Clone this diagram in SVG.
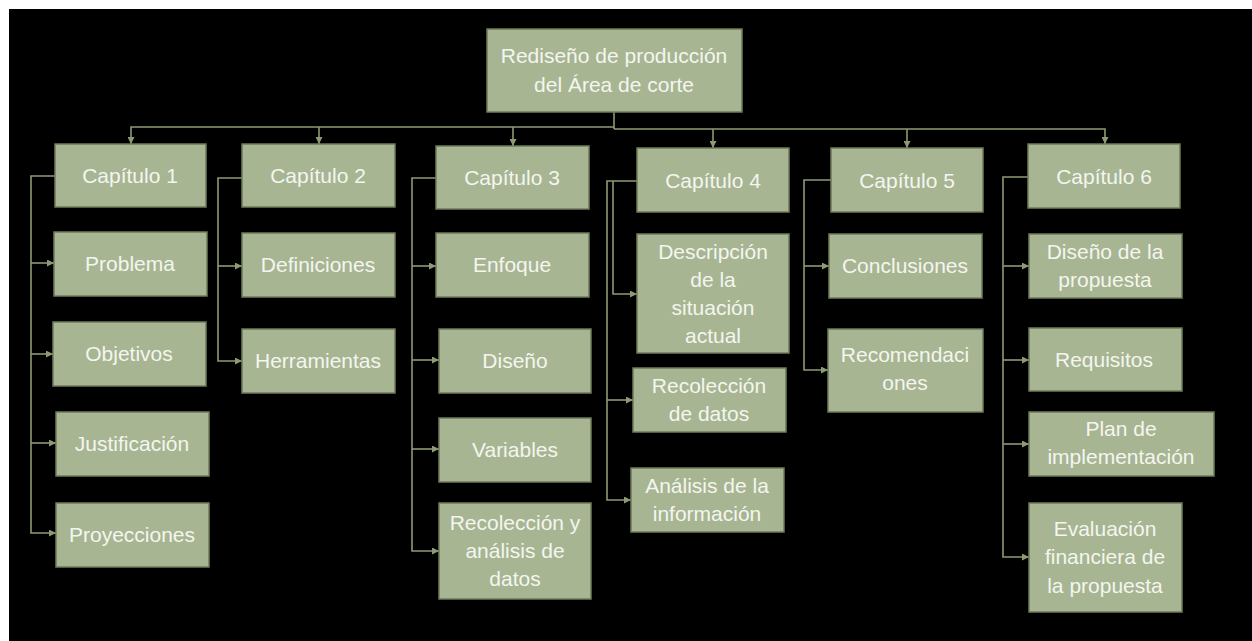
<svg xmlns="http://www.w3.org/2000/svg" width="1252" height="641" viewBox="0 0 1252 641">
  <style>
    .box { fill: #a7b592; stroke: #6f7b5a; stroke-width: 1.5; }
    .lbl { font-family: "Liberation Sans", Arial, sans-serif; font-size: 21px; fill: #f4f5ef; text-anchor: middle; }
    .lnk { fill: none; stroke: #8d9a74; stroke-width: 1.6; marker-end: url(#arr); }
    .bus { fill: none; stroke: #8d9a74; stroke-width: 1.6; }
  </style>
  <defs>
    <marker id="arr" viewBox="0 0 8 8" refX="8" refY="4" markerWidth="7" markerHeight="7" markerUnits="userSpaceOnUse" orient="auto">
      <path d="M0,0 L8,4 L0,8 z" fill="#8d9a74"/>
    </marker>
  </defs>

  <rect x="0" y="0" width="1252" height="641" fill="#ffffff"/>
  <rect x="9" y="9" width="1243" height="632" fill="#000000"/>

  <!-- connectors -->
  <g id="connectors">
    <!-- root to chapters -->
    <path class="bus" d="M614 112 V129"/>
    <path class="lnk" d="M614 127 H131 V144"/>
    <path class="lnk" d="M319 127 V144"/>
    <path class="lnk" d="M513 127 V146"/>
    <path class="lnk" d="M614 129 H1105 V144"/>
    <path class="lnk" d="M713 129 V148"/>
    <path class="lnk" d="M907 129 V148"/>
    <!-- chapter 1 -->
    <path class="lnk" d="M55 176 H31 V533 H56"/>
    <path class="lnk" d="M31 263 H54"/>
    <path class="lnk" d="M31 354 H53"/>
    <path class="lnk" d="M31 443 H56"/>
    <!-- chapter 2 -->
    <path class="lnk" d="M242 178 H218 V361 H242"/>
    <path class="lnk" d="M218 266 H242"/>
    <!-- chapter 3 -->
    <path class="lnk" d="M436 178 H412 V551 H439"/>
    <path class="lnk" d="M412 266 H436"/>
    <path class="lnk" d="M412 360 H439"/>
    <path class="lnk" d="M412 449 H439"/>
    <!-- chapter 4 -->
    <path class="lnk" d="M637 181 H607 V500 H631"/>
    <path class="lnk" d="M613 181 V294 H637"/>
    <path class="lnk" d="M607 400 H633"/>
    <!-- chapter 5 -->
    <path class="lnk" d="M831 180 H804 V370 H828"/>
    <path class="lnk" d="M804 266 H829"/>
    <!-- chapter 6 -->
    <path class="lnk" d="M1028 177 H1003 V557 H1029"/>
    <path class="lnk" d="M1003 266 H1029"/>
    <path class="lnk" d="M1003 360 H1029"/>
    <path class="lnk" d="M1003 444 H1029"/>
  </g>

  <!-- root -->
  <g id="root">
    <rect class="box" x="487" y="29" width="255" height="83"/>
    <text class="lbl" x="614" y="63">Rediseño de producción</text>
    <text class="lbl" x="614" y="92">del Área de corte</text>
  </g>

  <!-- chapters -->
  <g id="cap1">
    <rect class="box" x="55" y="144" width="151" height="63"/>
    <text class="lbl" x="130" y="183">Capítulo 1</text>
  </g>
  <g id="cap2">
    <rect class="box" x="242" y="144" width="153" height="63"/>
    <text class="lbl" x="318" y="183">Capítulo 2</text>
  </g>
  <g id="cap3">
    <rect class="box" x="436" y="146" width="153" height="63"/>
    <text class="lbl" x="512" y="185">Capítulo 3</text>
  </g>
  <g id="cap4">
    <rect class="box" x="637" y="148" width="152" height="64"/>
    <text class="lbl" x="713" y="188">Capítulo 4</text>
  </g>
  <g id="cap5">
    <rect class="box" x="831" y="148" width="152" height="64"/>
    <text class="lbl" x="907" y="188">Capítulo 5</text>
  </g>
  <g id="cap6">
    <rect class="box" x="1028" y="144" width="152" height="64"/>
    <text class="lbl" x="1104" y="184">Capítulo 6</text>
  </g>

  <!-- chapter 1 items -->
  <g id="problema">
    <rect class="box" x="54" y="232" width="153" height="64"/>
    <text class="lbl" x="130" y="271">Problema</text>
  </g>
  <g id="objetivos">
    <rect class="box" x="53" y="322" width="153" height="64"/>
    <text class="lbl" x="129" y="361">Objetivos</text>
  </g>
  <g id="justificacion">
    <rect class="box" x="56" y="412" width="153" height="64"/>
    <text class="lbl" x="132" y="451">Justificación</text>
  </g>
  <g id="proyecciones">
    <rect class="box" x="56" y="503" width="153" height="64"/>
    <text class="lbl" x="132" y="542">Proyecciones</text>
  </g>

  <!-- chapter 2 items -->
  <g id="definiciones">
    <rect class="box" x="242" y="233" width="153" height="64"/>
    <text class="lbl" x="318" y="272">Definiciones</text>
  </g>
  <g id="herramientas">
    <rect class="box" x="242" y="329" width="153" height="64"/>
    <text class="lbl" x="318" y="368">Herramientas</text>
  </g>

  <!-- chapter 3 items -->
  <g id="enfoque">
    <rect class="box" x="436" y="233" width="153" height="64"/>
    <text class="lbl" x="512" y="272">Enfoque</text>
  </g>
  <g id="diseno">
    <rect class="box" x="439" y="329" width="152" height="64"/>
    <text class="lbl" x="515" y="368">Diseño</text>
  </g>
  <g id="variables">
    <rect class="box" x="439" y="418" width="152" height="64"/>
    <text class="lbl" x="515" y="457">Variables</text>
  </g>
  <g id="recoleccion-analisis">
    <rect class="box" x="439" y="503" width="152" height="96"/>
    <text class="lbl" x="515" y="530">Recolección y</text>
    <text class="lbl" x="515" y="558">análisis de</text>
    <text class="lbl" x="515" y="586">datos</text>
  </g>

  <!-- chapter 4 items -->
  <g id="descripcion">
    <rect class="box" x="637" y="234" width="152" height="119"/>
    <text class="lbl" x="713" y="259">Descripción</text>
    <text class="lbl" x="713" y="287">de la</text>
    <text class="lbl" x="713" y="315">situación</text>
    <text class="lbl" x="713" y="343">actual</text>
  </g>
  <g id="recoleccion">
    <rect class="box" x="633" y="368" width="153" height="64"/>
    <text class="lbl" x="709" y="393">Recolección</text>
    <text class="lbl" x="709" y="421">de datos</text>
  </g>
  <g id="analisis">
    <rect class="box" x="631" y="468" width="153" height="64"/>
    <text class="lbl" x="707" y="493">Análisis de la</text>
    <text class="lbl" x="707" y="521">información</text>
  </g>

  <!-- chapter 5 items -->
  <g id="conclusiones">
    <rect class="box" x="829" y="234" width="153" height="64"/>
    <text class="lbl" x="905" y="273">Conclusiones</text>
  </g>
  <g id="recomendaciones">
    <rect class="box" x="828" y="329" width="155" height="83"/>
    <text class="lbl" x="905" y="362">Recomendaci</text>
    <text class="lbl" x="905" y="390">ones</text>
  </g>

  <!-- chapter 6 items -->
  <g id="diseno-propuesta">
    <rect class="box" x="1029" y="234" width="153" height="64"/>
    <text class="lbl" x="1105" y="259">Diseño de la</text>
    <text class="lbl" x="1105" y="287">propuesta</text>
  </g>
  <g id="requisitos">
    <rect class="box" x="1029" y="328" width="153" height="63"/>
    <text class="lbl" x="1104" y="367">Requisitos</text>
  </g>
  <g id="plan">
    <rect class="box" x="1029" y="412" width="185" height="64"/>
    <text class="lbl" x="1121" y="436">Plan de</text>
    <text class="lbl" x="1121" y="464">implementación</text>
  </g>
  <g id="evaluacion">
    <rect class="box" x="1029" y="503" width="153" height="109"/>
    <text class="lbl" x="1105" y="536">Evaluación</text>
    <text class="lbl" x="1105" y="564">financiera de</text>
    <text class="lbl" x="1105" y="593">la propuesta</text>
  </g>
</svg>
